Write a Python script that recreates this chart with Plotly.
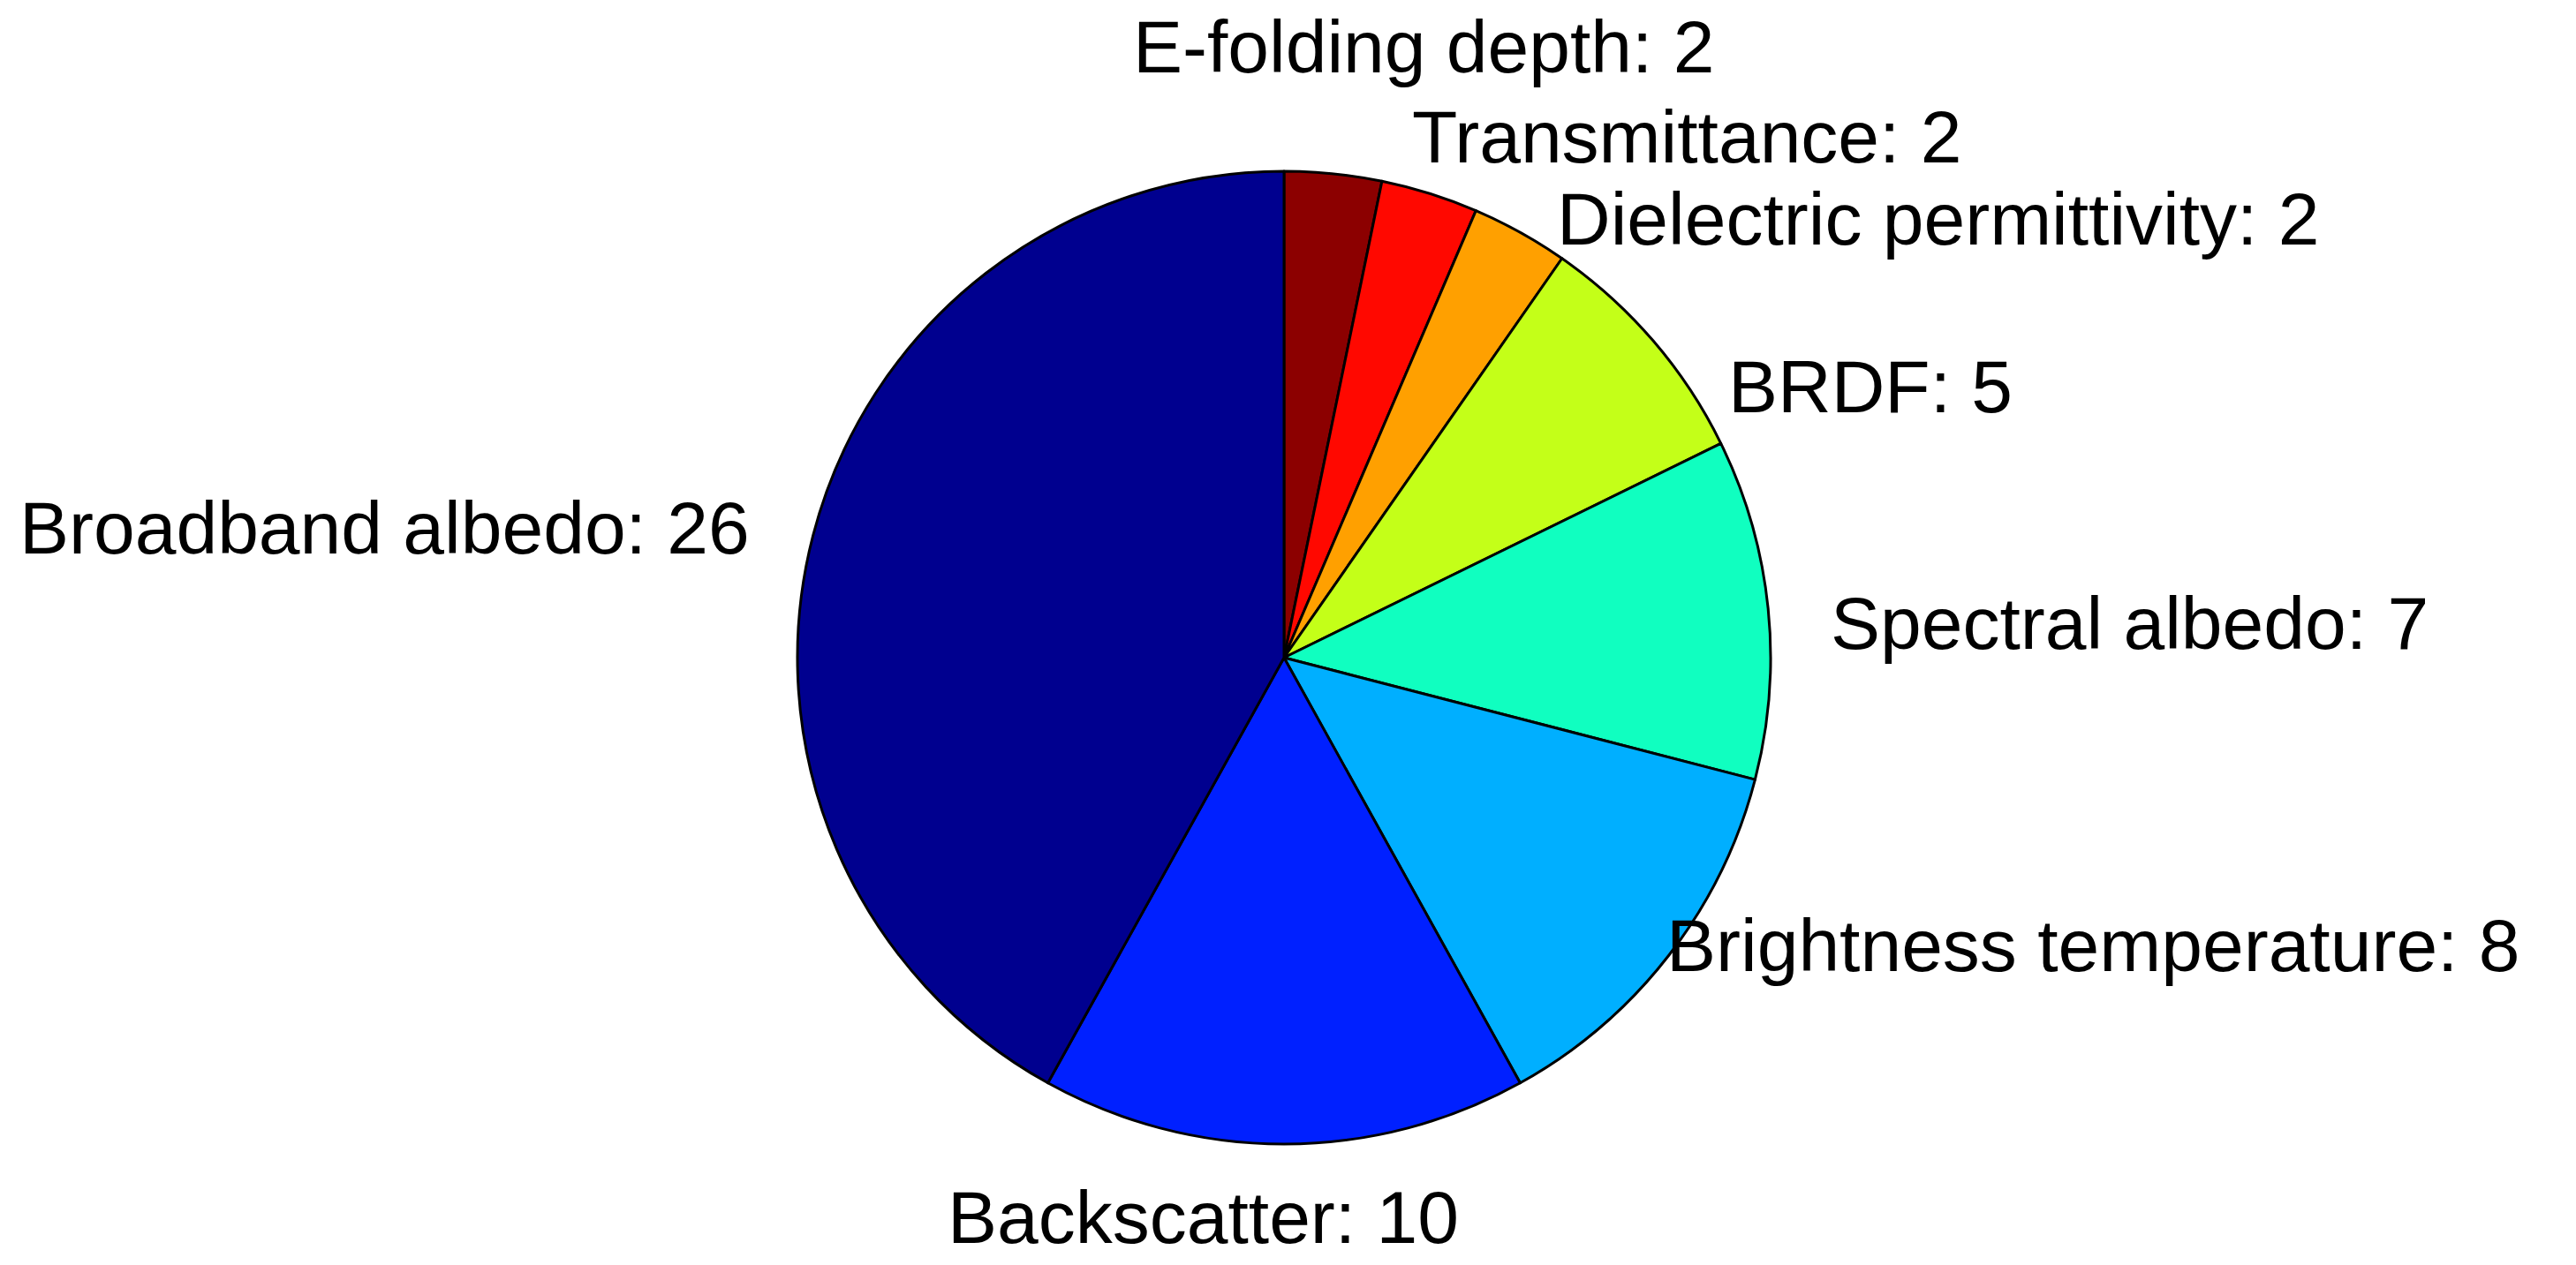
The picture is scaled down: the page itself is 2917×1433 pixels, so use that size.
import numpy as np
import plotly.graph_objects as go

# slices, counter-clockwise from 12 o'clock (MATLAB pie order)
labels = ["Broadband albedo", "Backscatter", "Brightness temperature", "Spectral albedo",
          "BRDF", "Dielectric permittivity", "Transmittance", "E-folding depth"]
counts = [26, 10, 8, 7, 5, 2, 2, 2]

# jet colormap, one colour per slice
colors = ["#00008F", "#0020FF", "#00AFFF", "#10FFC0", "#C4FF18", "#FFA000", "#FF0800", "#8C0000"]

# the labels were dragged by hand in the original, so nudge them (px) off the default spot
nudge_x = [37, -91, -92, -41, -1, -14, -55, 91]
nudge_y = [-19, 27, 79, -28, -124, -81, -41, 34]

W, H = 2917, 1433
CX, CY, R = 1446, 737, 551
FONT = "Liberation Sans, Arial, Helvetica, sans-serif"

# plotly's counterclockwise mode puts the first slice right of 12 o'clock,
# so feed the slices reversed and go clockwise to get MATLAB's layout
fig = go.Figure(
    go.Pie(
        labels=labels[::-1],
        values=counts[::-1],
        sort=False,
        direction="clockwise",
        rotation=0,
        textinfo="none",
        hoverinfo="label+value",
        marker=dict(colors=colors[::-1], line=dict(color="black", width=3)),
        domain=dict(x=[(CX - R) / W, (CX + R) / W], y=[1 - (CY + R) / H, 1 - (CY - R) / H]),
    )
)

# label anchors at 1.2 R along each slice's mid angle
total = sum(counts)
mid = (np.cumsum(counts) - np.array(counts) / 2) / total
ang = np.pi / 2 + mid * 2 * np.pi
for i, lab in enumerate(labels):
    c, s = np.cos(ang[i]), np.sin(ang[i])
    px_x = CX + 1.2 * R * c
    px_y = CY - 1.2 * R * s
    if abs(c) < 0.2:
        xa = "center"
    else:
        xa = "left" if c > 0 else "right"
    fig.add_annotation(
        x=px_x / W, y=1 - px_y / H, xref="paper", yref="paper",
        text=f"{lab}: {counts[i]}", showarrow=False,
        xanchor=xa, yanchor="middle",
        xshift=nudge_x[i], yshift=nudge_y[i],
        font=dict(family=FONT, size=84, color="black"),
    )

fig.update_layout(
    width=W, height=H,
    margin=dict(l=0, r=0, t=0, b=0),
    paper_bgcolor="white", plot_bgcolor="white",
    showlegend=False,
)

fig.write_html("out.html")
